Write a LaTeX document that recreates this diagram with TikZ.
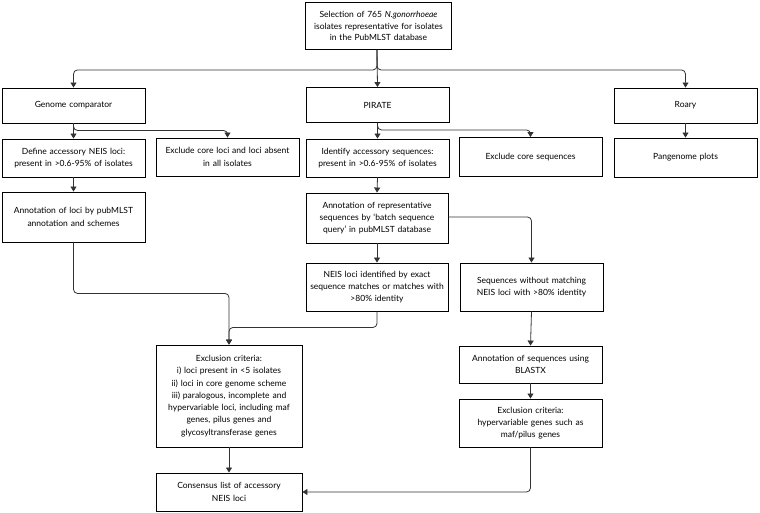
\documentclass[tikz,border=0pt]{standalone}
\usepackage{fontspec}
\setmainfont{Lato}
\usetikzlibrary{arrows.meta}
\tikzset{
  box/.style={draw=black, line width=0.9pt, fill=white, align=center, inner sep=0pt,
    minimum width=143pt, text width=140pt, font=\fontsize{8.5}{12.3}\selectfont},
  conn/.style={draw=black!80, line width=0.8pt, rounded corners=4pt,
    -{Triangle[width=6pt,length=5pt]}},
}
\begin{document}
\begin{tikzpicture}[x=1pt,y=-1pt]
\useasboundingbox (0,0) rectangle (760,513);
% nodes
\node[box, minimum width=146pt, text width=144pt, minimum height=47pt,
  font=\fontsize{8.5}{11.8}\selectfont] (top) at (378.5,26)
  {Selection of 765 \textit{N.gonorrhoeae}\\isolates representative for isolates\\in the PubMLST database};
\node[box, minimum height=35pt] (gc) at (73.5,105.5) {Genome comparator};
\node[box, minimum height=38pt] (def) at (73.5,158) {Define accessory NEIS loci:\\present in >0.6-95\% of isolates};
\node[box, minimum height=38pt] (excl1) at (227.5,157) {Exclude core loci and loci absent\\in all isolates};
\node[box, minimum height=50pt] (annot1) at (73.5,217) {Annotation of loci by pubMLST\\annotation and schemes};
\node[box, minimum height=35pt] (pirate) at (377.5,105) {PIRATE};
\node[box, minimum height=38pt] (ident) at (377.5,158) {Identify accessory sequences:\\present in >0.6-95\% of isolates};
\node[box, minimum height=39pt] (exclcore) at (530.5,157) {Exclude core sequences};
\node[box, minimum height=35pt] (roary) at (685.5,105.5) {Roary};
\node[box, minimum height=39pt] (pan) at (685.5,157.5) {Pangenome plots};
\node[box, minimum width=142pt, minimum height=50pt] (annotrep) at (377,218) {Annotation of representative\\sequences by `batch sequence\\query' in pubMLST database};
\node[box, minimum width=142pt, minimum height=48pt] (neis) at (377,287) {NEIS loci identified by exact\\sequence matches or matches with\\>80\% identity};
\node[box, minimum height=48pt] (seqw) at (531.5,287) {Sequences without matching\\NEIS loci with >80\% identity};
\node[box, minimum width=146pt, minimum height=102pt] (exclmain) at (229,396) {Exclusion criteria:\\i) loci present in <5 isolates\\ii) loci in core genome scheme\\iii) paralogous, incomplete and\\hypervariable loci, including maf\\genes, pilus genes and\\glycosyltransferase genes};
\node[box, minimum width=146pt, minimum height=38pt] (cons) at (229,492) {Consensus list of accessory\\NEIS loci};
\node[box, minimum height=37pt] (blastx) at (530.5,364.5) {Annotation of sequences using\\BLASTX};
\node[box, minimum height=48pt] (exclr) at (530.5,423) {Exclusion criteria:\\hypervariable genes such as\\maf/pilus genes};
% connectors
\draw[conn] ([xshift=-1.5pt]top.south) -- ++(0,20) -| (gc.north);
\draw[conn] ([xshift=-1.5pt]top.south) -- (pirate.north);
\draw[conn] ([xshift=-1.5pt]top.south) -- ++(0,20) -| (roary.north);
\draw[conn] (gc.south) -- (def.north);
\draw[conn] (gc.south) -- ++(0,7) -| (excl1.north);
\draw[conn] (def.south) -- (annot1.north);
\draw[conn] (annot1.south) -- ++(0,51) -| (exclmain.north);
\draw[conn] (pirate.south) -- (ident.north);
\draw[conn] (pirate.south) -- ++(0,7) -| (exclcore.north);
\draw[conn] (roary.south) -- (pan.north);
\draw[conn] (ident.south) -- (annotrep.north);
\draw[conn] (annotrep.south) -- (neis.north);
\draw[conn] ([yshift=1pt]annotrep.east) -| (seqw.north);
\draw[conn] (neis.south) -- ++(0,16) -| (exclmain.north);
\draw[conn] (seqw.south) -- (blastx.north);
\draw[conn] (blastx.south) -- (exclr.north);
\draw[conn] (exclr.south) |- (cons.east);
\draw[conn] (exclmain.south) -- (cons.north);
\end{tikzpicture}
\end{document}
